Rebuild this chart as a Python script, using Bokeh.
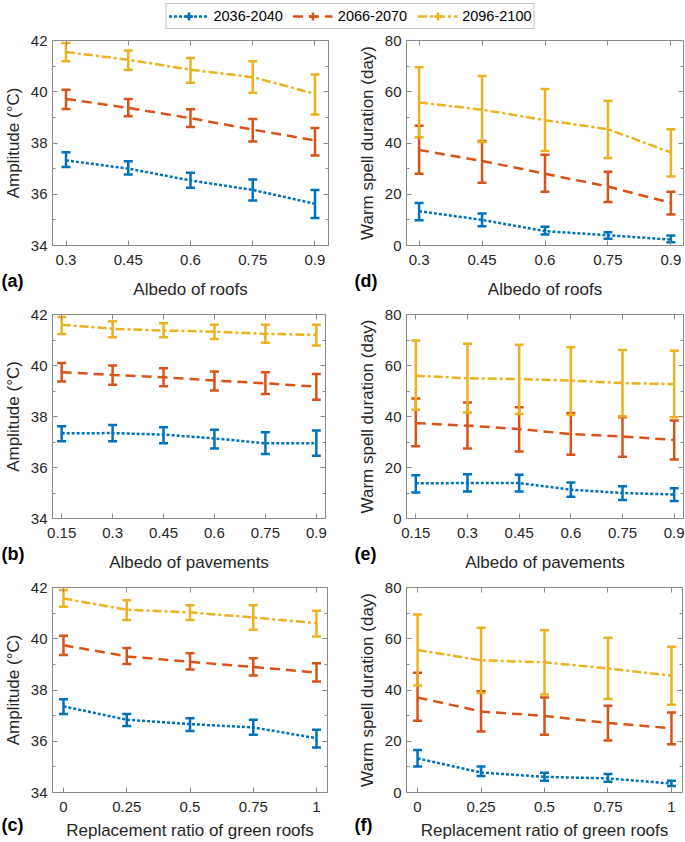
from bokeh.plotting import figure
from bokeh.layouts import column, row
from bokeh.models import (ColumnDataSource, Whisker, TeeHead, FixedTicker, PrintfTickFormatter,
                          Range1d, LinearAxis, Legend, LegendItem, Title)
from bokeh.embed import file_html
from bokeh.resources import INLINE

# ---------------- data ----------------
periods = ["2036-2040", "2066-2070", "2096-2100"]

roof_albedo = [0.3, 0.45, 0.6, 0.75, 0.9]
pavement_albedo = [0.15, 0.3, 0.45, 0.6, 0.75, 0.9]
green_roof_ratio = [0, 0.25, 0.5, 0.75, 1]

amp_major = [34, 36, 38, 40, 42]
amp_minor = [35, 37, 39, 41]
dur_major = [0, 20, 40, 60, 80]
dur_minor = [10, 30, 50, 70]

# (a) amplitude vs albedo of roofs  [2036-2040, 2066-2070, 2096-2100]
a_mean = [[37.32, 37.00, 36.54, 36.17, 35.63],
          [39.72, 39.37, 38.97, 38.52, 38.10],
          [41.55, 41.25, 40.86, 40.57, 39.92]]
a_low = [[37.06, 36.77, 36.25, 35.76, 35.07],
         [39.33, 39.04, 38.62, 38.06, 37.51],
         [41.19, 40.86, 40.35, 39.96, 39.11]]
a_high = [[37.64, 37.29, 36.84, 36.58, 36.17],
          [40.08, 39.72, 39.32, 38.94, 38.59],
          [41.90, 41.61, 41.32, 41.19, 40.67]]

# (d) warm spell duration vs albedo of roofs
d_mean = [[13.4, 10.0, 5.6, 4.0, 2.3],
          [37.3, 33.0, 28.0, 23.0, 16.6],
          [55.8, 53.0, 48.9, 45.4, 36.3]]
d_low = [[9.9, 7.5, 4.3, 2.6, 1.3],
         [28.0, 24.5, 21.0, 17.0, 12.1],
         [42.2, 40.4, 36.9, 34.1, 26.9]]
d_high = [[16.6, 12.5, 7.3, 5.2, 3.9],
          [46.7, 40.8, 35.4, 28.8, 21.0],
          [69.6, 66.1, 61.1, 56.5, 45.4]]

# (b) amplitude vs albedo of pavements
b_mean = [[37.34, 37.35, 37.29, 37.14, 36.95, 36.95],
          [39.74, 39.63, 39.54, 39.41, 39.30, 39.17],
          [41.60, 41.44, 41.37, 41.33, 41.24, 41.20]]
b_low = [[37.03, 37.03, 36.95, 36.75, 36.53, 36.46],
         [39.37, 39.25, 39.19, 39.02, 38.88, 38.66],
         [41.24, 41.11, 41.11, 41.04, 40.89, 40.78]]
b_high = [[37.62, 37.67, 37.58, 37.48, 37.38, 37.45],
          [40.10, 40.00, 39.89, 39.76, 39.74, 39.67],
          [41.90, 41.74, 41.66, 41.60, 41.60, 41.60]]

# (e) warm spell duration vs albedo of pavements
e_mean = [[13.8, 13.9, 13.9, 11.3, 10.0, 9.4],
          [37.4, 36.4, 35.1, 33.1, 32.2, 30.8],
          [56.0, 55.0, 54.7, 54.1, 53.1, 52.7]]
e_low = [[10.2, 10.6, 10.6, 8.5, 7.3, 6.9],
         [28.3, 27.5, 26.3, 25.0, 24.2, 23.1],
         [42.6, 41.6, 41.0, 40.6, 40.1, 39.7]]
e_high = [[17.0, 17.4, 17.2, 14.1, 12.6, 11.9],
          [47.1, 45.5, 43.6, 41.4, 39.7, 38.4],
          [69.8, 68.5, 68.1, 67.2, 66.1, 65.8]]

# (c) amplitude vs replacement ratio of green roofs
c_mean = [[37.36, 36.84, 36.67, 36.54, 36.12],
          [39.75, 39.31, 39.10, 38.90, 38.68],
          [41.57, 41.13, 41.03, 40.83, 40.61]]
c_low = [[37.06, 36.60, 36.40, 36.25, 35.76],
         [39.37, 39.01, 38.80, 38.57, 38.33],
         [41.25, 40.73, 40.73, 40.35, 40.09]]
c_high = [[37.64, 37.06, 36.90, 36.84, 36.45],
          [40.12, 39.64, 39.43, 39.24, 39.04],
          [41.90, 41.50, 41.31, 41.31, 41.09]]

# (f) warm spell duration vs replacement ratio of green roofs
f_mean = [[13.3, 7.8, 6.1, 5.5, 3.5],
          [37.1, 31.6, 29.9, 27.1, 25.1],
          [55.6, 51.6, 50.8, 48.4, 45.6]]
f_low = [[10.1, 6.4, 4.6, 4.2, 2.5],
         [28.0, 23.8, 22.5, 20.3, 18.8],
         [41.8, 38.8, 38.2, 36.5, 34.2]]
f_high = [[16.6, 10.1, 7.7, 7.2, 4.6],
          [46.7, 39.5, 37.1, 33.9, 31.2],
          [69.5, 64.3, 63.3, 60.4, 56.9]]

# ---------------- style ----------------
COLORS = ["#0072BD", "#D95319", "#EDB120"]
DASHES = ["3 2", "10 6", "9 3 3 3"]
AX = "#8a8a8a"
TXT = "#262626"
FONT = "Liberation Sans"
LW = 2.5


def style_axis(ax, show_labels=True):
    ax.axis_line_color = AX
    ax.major_tick_line_color = AX
    ax.minor_tick_line_color = AX
    ax.major_tick_in = 5
    ax.major_tick_out = 0
    ax.minor_tick_in = 3
    ax.minor_tick_out = 0
    ax.major_label_text_font = FONT
    ax.axis_label_text_font = FONT
    ax.axis_label_text_font_size = "17px"
    ax.axis_label_text_font_style = "normal"
    ax.axis_label_text_color = TXT
    if show_labels:
        ax.major_label_text_font_size = "15px"
        ax.major_label_text_color = TXT
    else:
        ax.major_label_text_font_size = "1px"
        ax.major_label_text_color = None
        ax.major_label_standoff = 0


def panel(x, means, lows, highs, yr, y_major, y_minor, ylabel, xlabel, letter,
          width, height, bl, br, bt, bb, pad, xl_standoff, letter_offset, letter_standoff):
    step = x[1] - x[0]
    x0, x1 = x[0] - pad * step, x[-1] + pad * step
    p = figure(width=width, height=height, output_backend="svg", toolbar_location=None,
               x_range=Range1d(x0, x1), y_range=Range1d(yr[0], yr[1]),
               min_border_left=bl, min_border_right=br, min_border_top=bt, min_border_bottom=bb,
               x_axis_label=xlabel, y_axis_label=ylabel)
    p.grid.visible = False
    p.outline_line_color = AX
    p.background_fill_color = "white"
    p.border_fill_color = "white"

    xa = p.xaxis[0]
    ya = p.yaxis[0]
    style_axis(xa)
    style_axis(ya)
    xa.ticker = FixedTicker(ticks=x)
    xa.formatter = PrintfTickFormatter(format="%g")
    xa.major_label_standoff = 9
    xa.axis_label_standoff = xl_standoff
    ya.ticker = FixedTicker(ticks=y_major, minor_ticks=y_minor)
    ya.major_label_standoff = 5
    ya.axis_label_standoff = 5

    top = LinearAxis(ticker=FixedTicker(ticks=x))
    style_axis(top, show_labels=False)
    p.add_layout(top, "above")
    right = LinearAxis(ticker=FixedTicker(ticks=y_major, minor_ticks=y_minor))
    style_axis(right, show_labels=False)
    p.add_layout(right, "right")

    for i in range(3):
        p.line(x, means[i], line_color=COLORS[i], line_width=LW, line_dash=DASHES[i])
        src = ColumnDataSource(dict(base=x, lower=lows[i], upper=highs[i]))
        w = Whisker(base="base", lower="lower", upper="upper", source=src,
                    line_color=COLORS[i], line_width=LW,
                    upper_head=TeeHead(size=9, line_color=COLORS[i], line_width=LW),
                    lower_head=TeeHead(size=9, line_color=COLORS[i], line_width=LW))
        p.add_layout(w)

    # panel letter as a bottom title, pulled up next to the tick labels
    p.add_layout(Title(text=letter, align="left", vertical_align="top",
                       offset=letter_offset, standoff=letter_standoff,
                       text_font=FONT, text_font_style="bold", text_font_size="18px",
                       text_color="black"), "below")
    return p


AMP = "Amplitude (°C)"
DUR = "Warm spell duration (day)"
XR = "Albedo of roofs"
XP = "Albedo of pavements"
XG = "Replacement ratio of green roofs"

WL, WR = 340, 345
H1, H2, H3 = 10 + 205 + 59, 10 + 204 + 59, 10 + 205 + 50

pa = panel(roof_albedo, a_mean, a_low, a_high, (34, 42), amp_major, amp_minor, AMP, XR, "(a)",
           WL, H1, 49, 12, 10, 59, 0.217, 12, -51, -62)
pd = panel(roof_albedo, d_mean, d_low, d_high, (0, 80), dur_major, dur_minor, DUR, XR, "(d)",
           WR, H1, 66, 2, 10, 59, 0.2, 12, -52, -62)
pb = panel(pavement_albedo, b_mean, b_low, b_high, (34, 42), amp_major, amp_minor, AMP, XP, "(b)",
           WL, H2, 49, 15, 10, 59, 0.18, 12, -51, -62)
pe = panel(pavement_albedo, e_mean, e_low, e_high, (0, 80), dur_major, dur_minor, DUR, XP, "(e)",
           WR, H2, 66, 2, 10, 59, 0.18, 12, -52, -62)
pc = panel(green_roof_ratio, c_mean, c_low, c_high, (34, 42), amp_major, amp_minor, AMP, XG, "(c)",
           WL, H3, 49, 13, 10, 50, 0.174, 6, -51, -56)
pf = panel(green_roof_ratio, f_mean, f_low, f_high, (0, 80), dur_major, dur_minor, DUR, XG, "(f)",
           WR, H3, 66, 3, 10, 50, 0.174, 6, -52, -56)

# ---------------- legend ----------------
leg = figure(width=WL + WR, height=30, output_backend="svg", toolbar_location=None,
             x_axis_location=None, y_axis_location=None, min_border=0, min_border_left=15,
             x_range=Range1d(0, 1), y_range=Range1d(0, 1))
leg.grid.visible = False
leg.outline_line_color = None
items = []
for i, name in enumerate(periods):
    r1 = leg.line(roof_albedo, a_mean[i], line_color=COLORS[i], line_width=LW, line_dash=DASHES[i])
    r2 = leg.scatter(roof_albedo, a_mean[i], marker="cross", size=12,
                     line_color=COLORS[i], line_width=LW)
    items.append(LegendItem(label=name, renderers=[r1, r2]))
legend = Legend(items=items, orientation="horizontal", location="top_center",
                border_line_color=AX, border_line_width=1, padding=2, spacing=10, margin=3,
                glyph_width=40, glyph_height=20, label_standoff=5, label_height=20,
                label_text_font=FONT, label_text_font_size="14.5px", label_text_color="black",
                background_fill_color="white", background_fill_alpha=1)
leg.add_layout(legend, "center")

layout = column(leg, row(pa, pd), row(pb, pe), row(pc, pf))

open("out.html", "w").write(file_html(layout, INLINE))
